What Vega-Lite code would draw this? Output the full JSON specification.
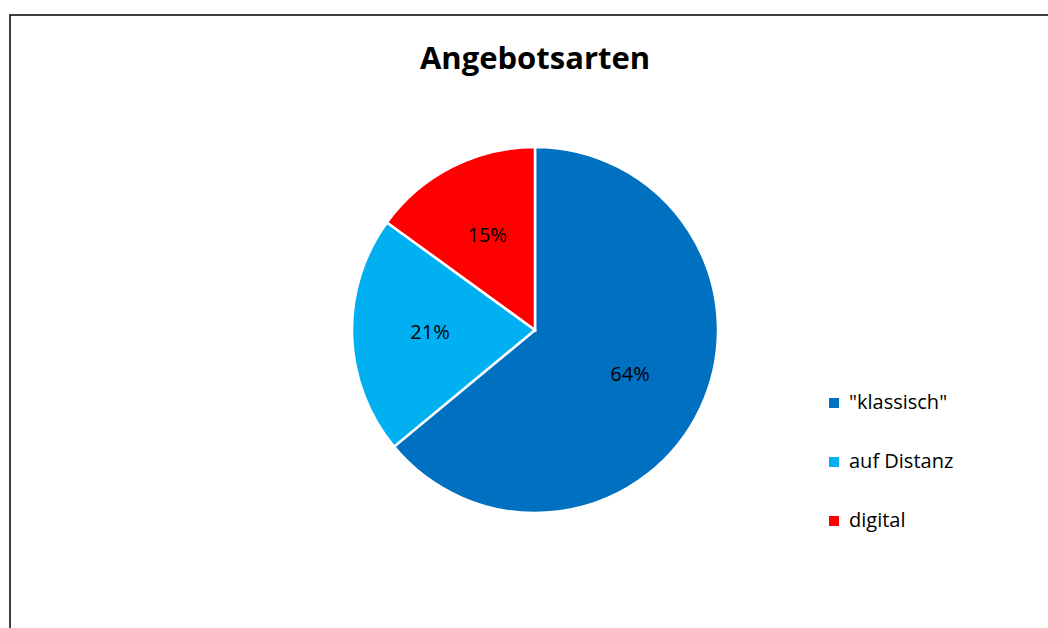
{
  "$schema": "https://vega.github.io/schema/vega-lite/v6.json",
  "width": 1050,
  "height": 630,
  "autosize": {"type": "none"},
  "padding": {"left": 10, "top": 15, "right": 0, "bottom": 0},
  "background": "white",
  "view": {"stroke": "black", "strokeWidth": 1.5, "fill": "white"},
  "config": {
    "view": {"stroke": "black", "strokeWidth": 1.5},
    "font": "Open Sans"
  },
  "title": {
    "text": "Angebotsarten",
    "fontSize": 31,
    "font": "Open Sans",
    "fontWeight": "bold",
    "color": "black",
    "offset": -85,
    "baseline": "alphabetic",
    "anchor": "middle",
    "frame": "group"
  },
  "data": {
    "values": [
      {"cat": "\"klassisch\"", "share": 0.64},
      {"cat": "auf Distanz", "share": 0.21},
      {"cat": "digital", "share": 0.15}
    ]
  },
  "encoding": {
    "theta": {"field": "share", "type": "quantitative", "stack": true},
    "order": {"field": "cat", "type": "ordinal"}
  },
  "layer": [
    {
      "mark": {"type": "arc", "outerRadius": 183, "stroke": "white", "strokeWidth": 2.5},
      "encoding": {
        "color": {
          "field": "cat",
          "type": "nominal",
          "scale": {"domain": ["\"klassisch\"", "auf Distanz", "digital"], "range": ["#0070C0", "#00B0F0", "#FF0000"]},
          "legend": {
            "title": null,
            "orient": "none",
            "legendX": 814,
            "legendY": 378,
            "symbolType": "square",
            "symbolSize": 100,
            "symbolStrokeWidth": 0,
            "labelFont": "Open Sans",
            "labelFontSize": 20,
            "labelColor": "black",
            "labelOffset": 5,
            "rowPadding": 39
          }
        }
      }
    },
    {
      "mark": {"type": "text", "radius": 105, "fontSize": 20, "font": "Open Sans", "color": "black"},
      "encoding": {
        "text": {"field": "share", "type": "quantitative", "format": ".0%"}
      }
    }
  ]
}
